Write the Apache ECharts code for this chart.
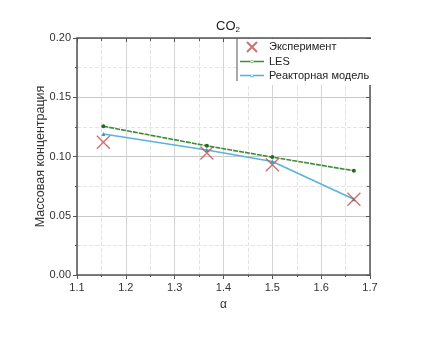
<!DOCTYPE html>
<html><head><meta charset="utf-8">
<script src="https://cdn.jsdelivr.net/npm/echarts@6/dist/echarts.min.js"></script>
<style>html,body{margin:0;padding:0;background:#fff}#c{width:428px;height:339px}</style>
</head><body><div id="c"></div>
<script>
const alphaValues = [1.154, 1.366, 1.5, 1.667];
const experiment = [0.112, 0.103, 0.093, 0.064];
const les = [0.1255, 0.109, 0.0995, 0.088];
const reactor = [0.119, 0.1055, 0.0958, 0.064];
const seriesNames = ['Эксперимент', 'LES', 'Реакторная модель'];
const xTicks = [1.1, 1.7, 0.1];
const yTicks = [0, 0.2, 0.05];

const pair = (xs, ys) => xs.map((x, i) => [x, ys[i]]);
const F = 'Liberation Sans, Arial, sans-serif';
const crossPath = 'path://M0,0L10,10M10,0L0,10';
const edge = 'M0,0L0.01,0L0,0.01Z M24,10L23.99,10L24,9.99Z ';
const lesIcon = 'path://' + edge + 'M0,4.2L24,4.2L24,5.8L0,5.8Z M10.4,5A1.6,1.6 0 1,0 13.6,5A1.6,1.6 0 1,0 10.4,5Z';
const reactorIcon = 'path://' + edge + 'M0,4.2L24,4.2L24,5.8L0,5.8Z M10,6.8L14,6.8L12,3.2Z';
const chart = echarts.init(document.getElementById('c'));
const axisLine = {show: true, onZero: false, lineStyle: {color: '#555', width: 1.5}};
chart.setOption({
  animation: false,
  backgroundColor: '#fff',
  title: {
    text: '{a|CO}{b|2}', left: 211, top: 13,
    textStyle: {fontWeight: 'normal', rich: {a: {fontFamily: F, fontSize: 13, color: '#222'}, b: {fontFamily: F, fontSize: 8, color: '#222', padding: [8, 0, 0, 0]}}}
  },
  grid: {left: 77, right: 58, top: 38, bottom: 64},
  legend: {
    orient: 'vertical', left: 238, top: 39, itemWidth: 24, itemHeight: 10, itemGap: 3,
    backgroundColor: '#fff', padding: [2, 2, 4, 2],
    textStyle: {fontFamily: F, fontSize: 11, color: '#222'},
    data: [
      {name: seriesNames[0]},
      {name: seriesNames[1], icon: lesIcon, itemStyle: {color: '#3d8b37'}},
      {name: seriesNames[2], icon: reactorIcon, itemStyle: {color: '#4fb0d8'}}
    ]
  },
  graphic: [{type: 'line', shape: {x1: 237, y1: 38, x2: 237, y2: 81}, style: {stroke: '#555', lineWidth: 1}, z: 100}],
  xAxis: [{
    type: 'value', min: xTicks[0], max: xTicks[1], interval: xTicks[2],
    name: 'α', nameLocation: 'middle', nameGap: 24,
    nameTextStyle: {fontFamily: F, fontSize: 12, color: '#333'},
    axisLine: axisLine,
    axisTick: {show: true, inside: false, length: 4, lineStyle: {color: '#555'}},
    minorTick: {show: true, splitNumber: 2, length: 2, lineStyle: {color: '#555'}},
    axisLabel: {fontFamily: F, fontSize: 11, color: '#333', margin: 7, formatter: v => v.toFixed(1)},
    splitLine: {show: true, lineStyle: {color: '#d4d4d4', width: 1}},
    minorSplitLine: {show: true, lineStyle: {color: '#e4e4e4', type: 'dashed'}}
  }, {
    type: 'value', position: 'top', min: xTicks[0], max: xTicks[1], interval: xTicks[2],
    axisLine: axisLine,
    axisTick: {show: true, inside: true, length: 4, lineStyle: {color: '#555'}},
    minorTick: {show: true, splitNumber: 2, length: 3, lineStyle: {color: '#555'}},
    axisLabel: {show: false}, splitLine: {show: false}
  }],
  yAxis: [{
    type: 'value', min: yTicks[0], max: yTicks[1], interval: yTicks[2],
    name: 'Массовая концентрация', nameLocation: 'middle', nameGap: 30, nameMoveOverlap: false,
    nameTextStyle: {fontFamily: F, fontSize: 12.5, color: '#333'},
    axisLine: axisLine,
    axisTick: {show: true, inside: false, length: 4, lineStyle: {color: '#555'}},
    minorTick: {show: true, splitNumber: 2, length: 2, lineStyle: {color: '#555'}},
    axisLabel: {fontFamily: F, fontSize: 11, color: '#333', margin: 6, formatter: v => v.toFixed(2)},
    splitLine: {show: true, lineStyle: {color: '#c8c8c8', width: 1.2}},
    minorSplitLine: {show: true, lineStyle: {color: '#e4e4e4', type: 'dashed'}}
  }, {
    type: 'value', position: 'right', min: yTicks[0], max: yTicks[1], interval: yTicks[2],
    axisLine: axisLine,
    axisTick: {show: true, inside: true, length: 4, lineStyle: {color: '#555'}},
    minorTick: {show: true, splitNumber: 2, length: 3, lineStyle: {color: '#555'}},
    axisLabel: {show: false}, splitLine: {show: false}
  }],
  series: [{
    name: seriesNames[1], type: 'line', data: pair(alphaValues, les),
    symbol: 'circle', symbolSize: 4, z: 3,
    lineStyle: {color: '#3d8b37', width: 1.6, type: [5, 1]},
    itemStyle: {color: '#1f6b1f'}
  }, {
    name: seriesNames[2], type: 'line', data: pair(alphaValues, reactor),
    symbol: 'triangle', symbolSize: 4, z: 4,
    lineStyle: {color: '#5bb4d8', width: 1.6},
    itemStyle: {color: '#3a9ccc'}
  }, {
    name: seriesNames[0], type: 'scatter', data: pair(alphaValues, experiment),
    symbol: crossPath, symbolSize: 13, z: 5,
    itemStyle: {color: 'rgba(0,0,0,0)', borderColor: '#c0504d', borderWidth: 1.4}
  }]
});
</script></body></html>
